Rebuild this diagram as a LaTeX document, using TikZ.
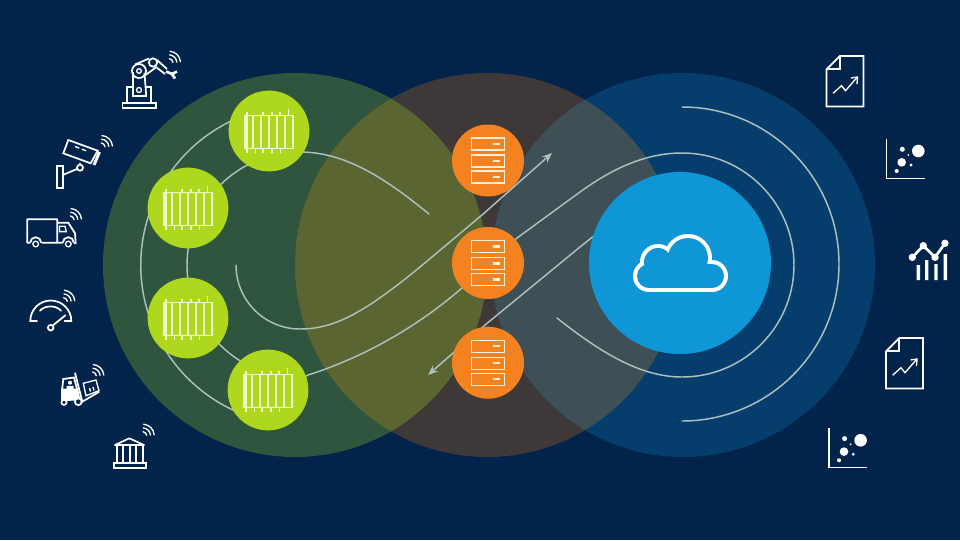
\documentclass[tikz,border=0pt]{standalone}
\usetikzlibrary{arrows.meta}
\definecolor{bgnavy}{RGB}{2,35,74}
\definecolor{discgreen}{RGB}{47,85,62}
\definecolor{discbrown}{RGB}{62,57,56}
\definecolor{discblue}{RGB}{5,62,108}
\definecolor{mixgreen}{RGB}{91,101,50}
\definecolor{mixblue}{RGB}{62,80,86}
\definecolor{lime}{RGB}{174,216,30}
\definecolor{amber}{RGB}{245,130,32}
\definecolor{sky}{RGB}{14,150,214}
\definecolor{limewhite}{RGB}{240,250,200}
\definecolor{amberwhite}{RGB}{255,240,220}
\definecolor{flowgrey}{RGB}{172,192,190}
\tikzset{
  flow/.style={draw=flowgrey,line width=1.1pt,line cap=round},
  flowtip/.style={flow,-{Stealth[length=7.5pt,width=6pt]}},
  icon/.style={draw=white,line width=1.3pt,line join=miter},
  thinicon/.style={draw=white,line width=1pt},
  limedisc/.style={circle,fill=lime,minimum size=60.6pt,inner sep=0pt},
  amberdisc/.style={circle,fill=amber,minimum size=54pt,inner sep=0pt},
  pics/wifi/.style={code={
    \draw[draw=white,line width=1pt,line cap=round]
      (-85:4) arc[start angle=-85,end angle=-5,radius=4]
      (-85:7.8) arc[start angle=-85,end angle=-5,radius=7.8]
      (-85:11.5) arc[start angle=-85,end angle=-5,radius=11.5];
  }},
  pics/battery/.style={code={
    \draw[draw=limewhite,line width=1.15pt] (-24,-15.5) rectangle (24,17.5);
    \foreach \c/\w in {-16/1,-8/1.3,0/1,8/1.3,16/1}
      \draw[draw=limewhite,line width=\w pt] (\c,-15.5) -- (\c,17.5);
    \foreach \c in {-22,-6,3,11}
      \draw[draw=limewhite,line width=1pt] (\c,-19) -- (\c,-15.5);
    \draw[draw=limewhite,line width=1pt] (19.7,-22) -- (19.7,-15.5);
    \foreach \c in {-22,-13.7,-6,3,11.3}
      \draw[draw=limewhite,line width=1pt] (\c,17.5) -- (\c,22);
    \draw[draw=limewhite,line width=1pt] (-22,-15.5) -- (-22,17.5);
  }},
  pics/server/.style={code={
    \foreach \r in {-22.5,-5.5,10.5}{
      \draw[draw=amberwhite,line width=1pt] (-16.5,\r) rectangle (16.5,\r+12);
      \draw[draw=amberwhite,line width=1.8pt] (5,\r+6) -- (11.5,\r+6);
    }
  }},
  pics/report/.style={code={
    \draw[icon] (13.3,0) -- (37,0) -- (37,50.5) -- (0,50.5) -- (0,13.3) -- cycle;
    \draw[icon] (13.3,0) -- (13.3,13.3) -- (0,13.3);
    \draw[thinicon] (6.6,37.3) -- (15,29.7) -- (19,34.7) -- (30.6,21.3);
    \draw[thinicon] (24.5,22) -- (31,21) -- (30.5,28);
  }},
  pics/scatter/.style={code={
    \draw[thinicon] (0,0) -- (0,39.3) -- (38.3,39.3);
    \fill[white] (31.6,12) circle[radius=6.3] (15.6,10.3) circle[radius=2.5]
      (21.6,16) circle[radius=1] (15,23.3) circle[radius=4.3]
      (24.3,26) circle[radius=1.6] (10,32) circle[radius=2];
  }}
}
% cloud silhouette built from its lobes, grown or shrunk by the first argument
\newcommand{\cloudlobes}[2]{%
  \fill[#2] (649,276) circle[radius=14+#1];
  \fill[#2] (658,262) circle[radius=16+#1];
  \fill[#2] (688,258) circle[radius=22+#1];
  \fill[#2] (712,276) circle[radius=14+#1];
  \fill[#2] (649,262-#1) rectangle (712,290+#1);
  \fill[#2] (660,255) rectangle (700,280);
}
\begin{document}
\begin{tikzpicture}[x=.75pt,y=-.75pt]
\useasboundingbox (0,0) rectangle (960,540);
\fill[bgnavy] (0,0) rectangle (960,540);

% three overlapping discs
\fill[discbrown] (487,265) circle[radius=192];
\fill[discgreen] (295,265) circle[radius=192];
\fill[discblue] (683,265) circle[radius=192];
\begin{scope}
  \clip (295,265) circle[radius=192];
  \fill[mixgreen] (487,265) circle[radius=192];
\end{scope}
\begin{scope}
  \clip (683,265) circle[radius=192];
  \fill[mixblue] (487,265) circle[radius=192];
\end{scope}

% free ends of the flow lines
\coordinate (innerEnd) at (429,214);
\coordinate (loopStart) at (236,265);
\coordinate (upTip) at (552,153);
\coordinate (downStart) at (600,231);
\coordinate (downTip) at (428,375);
\coordinate (tailStart) at (557,318);

% tail, right ring, long S-curve and the outer left ring form one line
\draw[flow] (tailStart) .. controls (600,352) and (640,377) .. (682,377)
  arc[start angle=90,end angle=-90,radius=112]
  .. controls (640,153) and (605,174) .. (580,192)
  -- (517,238) -- (463,287)
  .. controls (420,325) and (365,357) .. (308,375)
  .. controls (290,385) and (280,405) .. (273,422.6)
  arc[start angle=100,end angle=250,radius=160];
% inner left ring
\draw[flow] (innerEnd) .. controls (385,178) and (345,152) .. (300,152)
  arc[start angle=270,end angle=115,radius=113];
% upward S-curve with arrow
\draw[flowtip] (loopStart) arc[start angle=180,end angle=90,radius=64]
  .. controls (335,329) and (365,312) .. (420,267) -- (482,215) -- (upTip);
% downward line with arrow
\draw[flowtip] (downStart) -- (580,247) -- (485,325) -- (453,353) -- (downTip);
% outer right ring
\draw[flow] (682,107) arc[start angle=-90,end angle=90,radius=157];

% battery discs
\foreach \n/\x/\y in {g1/269/131,g2/188/208,g3/188/318,g4/268/390}{
  \node[limedisc] (\n) at (\x,\y) {};
  \pic at (\n) {battery};
}
% server discs
\foreach \n/\y in {s1/160.5,s2/263,s3/362.7}{
  \node[amberdisc] (\n) at (488,\y) {};
  \pic at (\n) {server};
}
% cloud disc with its outlined cloud
\node[circle,fill=sky,minimum size=136.5pt,inner sep=0pt] (cloudDisc) at (680,263) {};
\cloudlobes{2}{white}
\cloudlobes{-2}{sky}

% robot arm
\draw[icon] (122.5,103) rectangle (156,108);
\draw[icon] (127,103) -- (127,87) -- (133,87) (144.5,87) -- (151,87) -- (151,103);
\draw[icon] (133,72) -- (133,93) (144.5,73) -- (146,93) (133,93) -- (133,96) -- (146,96) -- (146,93);
\draw[icon] (139,71) circle[radius=7];
\draw[thinicon] (139,71) circle[radius=2.3] (139,90) circle[radius=2.5];
\draw[icon] (135,64.5) -- (149,58.5) (144,76) -- (156,67.5);
\draw[icon] (153,62.5) circle[radius=4.2];
\draw[icon] (157,60) -- (167,69) (156,67) -- (165,74);
\draw[draw=white,line width=2pt] (166,71.5) -- (172,74) (172,74) -- (177,71.5) (172,74) -- (175,78.5);
\pic at (169,62.7) {wifi};

% surveillance camera
\draw[icon] (68.3,140) -- (97.7,150.7) -- (90.7,163.3) -- (63.3,153.3) -- cycle;
\draw[draw=white,line width=2.2pt] (99.5,152) -- (94,165);
\draw[thinicon,dash pattern=on 3.5pt off 2pt] (75,146.5) -- (88,151.5);
\draw[icon] (80,163) -- (80,165);
\draw[icon] (80,167.7) circle[radius=3];
\draw[icon] (77,169) -- (62.7,175);
\draw[icon] (57.3,166) rectangle (62.7,187.7);
\pic at (101,147) {wifi};

% delivery truck
\draw[icon,line join=round] (30,242.7) -- (27.3,242.7) -- (27.3,219.3) -- (57.3,219.3) -- (57.3,242.7)
  (41.5,242.7) -- (62.5,242.7) (57.3,222.7) -- (68.3,222.7) -- (75,233.3) -- (75.7,243.3) -- (74,243.3);
\draw[icon] (30.2,242.7) arc[start angle=180,end angle=360,radius=5.5]
  (62.8,242.7) arc[start angle=180,end angle=360,radius=5.5];
\draw[thinicon] (35.7,244) circle[radius=2.8] (68.3,244) circle[radius=2.8];
\draw[thinicon] (59.5,226.3) -- (65,226.3) -- (66.3,231.6) -- (59.5,231.6) -- cycle;
\pic at (70,220) {wifi};

% speed gauge
\draw[icon,line cap=round] (37,321) -- (30.3,321) arc[start angle=180,end angle=360,radius=20.5] -- (64.5,321);
\draw[icon,line cap=round] (40,310.7) .. controls (45,305) and (56,305) .. (61,310.7);
\draw[icon] (50.7,327.7) circle[radius=2.8];
\draw[icon] (52.8,325.5) -- (65.7,315);
\pic at (63.3,301.7) {wifi};

% forklift
\fill[white] (61,388.5) -- (78,388.5) -- (80.5,400) -- (61,401.5) -- cycle;
\draw[icon] (62.2,389) -- (63.3,379) -- (74,377.5) -- (77,389);
\fill[white] (70,382.7) circle[radius=2] (66.5,388.8) rectangle (73.5,385.8);
\draw[icon,fill=bgnavy] (64,402.3) circle[radius=2.6] (78.3,401.7) circle[radius=3.4];
\draw[icon] (75,372.7) -- (82.3,401.7) -- (99.3,391.7);
\draw[thinicon] (83.3,383.3) -- (96,380) -- (99,390.7) -- (86,395.7) -- cycle;
\draw[thinicon] (89.5,388) -- (90.5,391.5) (93,387) -- (94,390.5);
\pic at (92.3,376) {wifi};

% bank building
\draw[icon,line join=round] (115,445) -- (129.3,438.3) -- (144,445) -- cycle;
\draw[icon] (116.7,445) -- (116.7,463.3) (123.3,445) -- (123.3,463.3) (129.7,445) -- (129.7,463.3)
  (136,445) -- (136,463.3) (142.7,445) -- (142.7,463.3);
\draw[icon] (114,463.3) rectangle (145.7,468.3);
\pic at (142.7,435.7) {wifi};

% report and scatter icons on the right
\pic at (826.5,56) {report};
\pic at (886,338) {report};
\pic at (886.7,139) {scatter};
\pic at (829,428.3) {scatter};

% trend chart with bars
\draw[draw=white,line width=2pt] (912.3,257.3) -- (923.3,245.7) -- (935,257.3) -- (945,243.3);
\fill[white] (912.3,257.3) circle[radius=3.7] (923.3,245.7) circle[radius=3.7]
  (935,257.3) circle[radius=3.7] (945,243.3) circle[radius=3.7];
\fill[white] (916.6,265) rectangle (920,280) (925,260) rectangle (928.4,280)
  (934.3,264) rectangle (937.7,280) (943.6,254) rectangle (947,280);
\end{tikzpicture}
\end{document}
